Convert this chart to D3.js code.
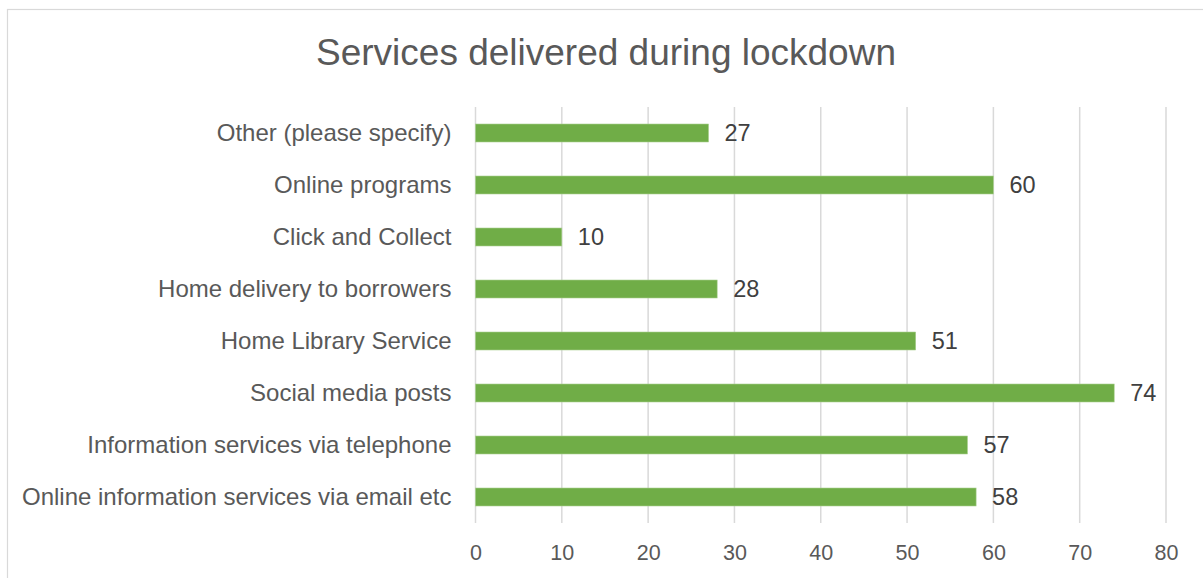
<!DOCTYPE html>
<html>
<head>
<meta charset="utf-8">
<script src="https://cdn.jsdelivr.net/npm/d3@7"></script>
<style>
  html, body { margin: 0; padding: 0; background: #fff; }
  svg { display: block; font-family: "Liberation Sans", Arial, sans-serif; }
</style>
</head>
<body>
<svg id="chart" width="1203" height="578"></svg>
<script>
// Services offered by libraries during lockdown (count of responses)
const categories = [
  "Other (please specify)",
  "Online programs",
  "Click and Collect",
  "Home delivery to borrowers",
  "Home Library Service",
  "Social media posts",
  "Information services via telephone",
  "Online information services via email etc"
];
const values = [27, 60, 10, 28, 51, 74, 57, 58];
const xTicks = [0, 10, 20, 30, 40, 50, 60, 70, 80];
const title = "Services delivered during lockdown";

const svg = d3.select("#chart");

// chart frame
svg.append("rect")
  .attr("x", 7.5).attr("y", 9.5)
  .attr("width", 1220).attr("height", 600)
  .attr("fill", "#fff").attr("stroke", "#d9d9d9").attr("stroke-width", 1.2);

const plot = { left: 475.5, right: 1166, top: 107, bottom: 523 };

const x = d3.scaleLinear().domain([0, 80]).range([plot.left, plot.right]);
const y = d3.scaleBand().domain(categories).range([plot.top, plot.bottom]).paddingInner(0.654).paddingOuter(0.327);

// vertical gridlines
svg.append("g").selectAll("line").data(xTicks).join("line")
  .attr("x1", d => x(d)).attr("x2", d => x(d))
  .attr("y1", plot.top).attr("y2", plot.bottom)
  .attr("stroke", "#d9d9d9").attr("stroke-width", 1.5);

// bars
svg.append("g").selectAll("rect").data(values).join("rect")
  .attr("x", x(0))
  .attr("y", (d, i) => y(categories[i]))
  .attr("width", d => x(d) - x(0))
  .attr("height", y.bandwidth())
  .attr("fill", "#70ad47")
  .attr("stroke", "#a9cf8f").attr("stroke-width", 0.6);

// value labels
svg.append("g").selectAll("text").data(values).join("text")
  .attr("x", d => x(d) + 16)
  .attr("y", (d, i) => y(categories[i]) + y.bandwidth() / 2)
  .attr("dy", "0.36em")
  .attr("font-size", 23.5)
  .attr("fill", "#404040")
  .text(d => d);

// category axis labels
const yAxis = d3.axisLeft(y).tickSize(0).tickPadding(24);
const gy = svg.append("g").attr("transform", `translate(${plot.left},0)`).call(yAxis);
gy.select(".domain").remove();
gy.selectAll("text")
  .attr("font-size", 24)
  .attr("font-family", "Liberation Sans, Arial, sans-serif")
  .attr("fill", "#595959");

// value axis
const xAxis = d3.axisBottom(x).tickValues(xTicks).tickSize(0).tickPadding(22);
const gx = svg.append("g").attr("transform", `translate(0,${plot.bottom})`).call(xAxis);
gx.select(".domain").remove();
gx.selectAll("text")
  .attr("font-size", 21.5)
  .attr("font-family", "Liberation Sans, Arial, sans-serif")
  .attr("fill", "#595959");

// title
svg.append("text")
  .attr("x", 606).attr("y", 65)
  .attr("text-anchor", "middle")
  .attr("font-size", 37)
  .attr("fill", "#595959")
  .text(title);
</script>
</body>
</html>
